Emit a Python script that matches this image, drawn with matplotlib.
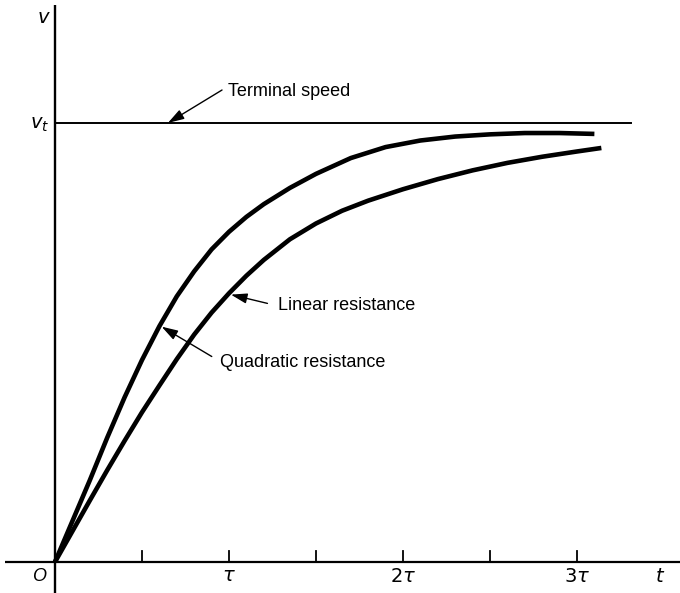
import matplotlib
matplotlib.use("Agg")
import matplotlib.pyplot as plt

plt.rcParams['font.family'] = ['Liberation Sans', 'DejaVu Sans']
plt.rcParams['mathtext.fontset'] = 'dejavusans'

# Data (t in units of tau, v in units of v_t)
quad_t = [0.0, 0.1, 0.2, 0.3, 0.4, 0.5, 0.6, 0.7, 0.8, 0.9, 1.0, 1.1, 1.2,
          1.35, 1.5, 1.7, 1.9, 2.1, 2.3, 2.5, 2.7, 2.9, 3.1]
quad_v = [0.0, 0.093, 0.186, 0.283, 0.375, 0.46, 0.537, 0.605, 0.662, 0.712,
          0.752, 0.786, 0.815, 0.852, 0.884, 0.92, 0.945, 0.96, 0.969, 0.974,
          0.977, 0.977, 0.975]

lin_t = [0.0, 0.1, 0.2, 0.3, 0.4, 0.5, 0.6, 0.7, 0.8, 0.9, 1.0, 1.1, 1.2,
         1.35, 1.5, 1.65, 1.8, 2.0, 2.2, 2.4, 2.6, 2.8, 3.0, 3.14]
lin_v = [0.0, 0.070, 0.140, 0.209, 0.276, 0.341, 0.402, 0.462, 0.518, 0.568,
         0.612, 0.652, 0.688, 0.735, 0.771, 0.800, 0.823, 0.849, 0.872, 0.892,
         0.909, 0.923, 0.935, 0.943]

terminal_v = 1.0
terminal_t_end = 3.31

tick_pos = [0.5, 1.0, 1.5, 2.0, 2.5, 3.0]
label_pos = [1.0, 2.0, 3.0]
label_txt = [r'$\tau$', r'$2\tau$', r'$3\tau$']

fig = plt.figure(figsize=(6.8, 5.93), dpi=100)
ax = fig.add_axes([0, 0, 1, 1])
ax.set_xlim(-0.316, 3.592)
ax.set_ylim(-0.0706, 1.280)
ax.axis('off')

# axes
ax.plot([-0.287, 3.592], [0, 0], color='black', lw=1.6, solid_capstyle='butt')
ax.plot([0, 0], [-0.0706, 1.269], color='black', lw=1.7, solid_capstyle='butt')

# ticks
for tp in tick_pos:
    ax.plot([tp, tp], [0, 0.025], color='black', lw=1.3)

# terminal speed line
ax.plot([0, terminal_t_end], [terminal_v, terminal_v], color='black', lw=1.4)

# curves
ax.plot(quad_t, quad_v, color='black', lw=3.3, solid_capstyle='butt',
        solid_joinstyle='round')
ax.plot(lin_t, lin_v, color='black', lw=3.3, solid_capstyle='butt',
        solid_joinstyle='round')

# tick labels
for p, s in zip(label_pos, label_txt):
    ax.text(p, -0.034, s, ha='center', va='center', fontsize=14)
ax.text(-0.092, -0.032, 'O', ha='center', va='center', fontsize=13, style='italic')
ax.text(3.477, -0.034, r'$t$', ha='center', va='center', fontsize=14)
ax.text(-0.063, 1.237, r'$v$', ha='center', va='center', fontsize=14)
ax.text(-0.035, 0.995, r'$v_t$', ha='right', va='center', fontsize=14)

ap = dict(arrowstyle='-|>,head_length=0.7,head_width=0.22', color='black', lw=1.0,
          shrinkA=0, shrinkB=0, mutation_scale=14)

ax.annotate('', xy=(0.649, 1.0), xytext=(0.960, 1.075), arrowprops=ap)
ax.text(0.994, 1.071, 'Terminal speed', ha='left', va='center', fontsize=13)

ax.annotate('', xy=(1.011, 0.609), xytext=(1.221, 0.589), arrowprops=ap)
ax.text(1.282, 0.585, 'Linear resistance', ha='left', va='center', fontsize=13)

ax.annotate('', xy=(0.613, 0.536), xytext=(0.901, 0.468), arrowprops=ap)
ax.text(0.948, 0.454, 'Quadratic resistance', ha='left', va='center', fontsize=13)

fig.savefig('out.png', dpi=100)
